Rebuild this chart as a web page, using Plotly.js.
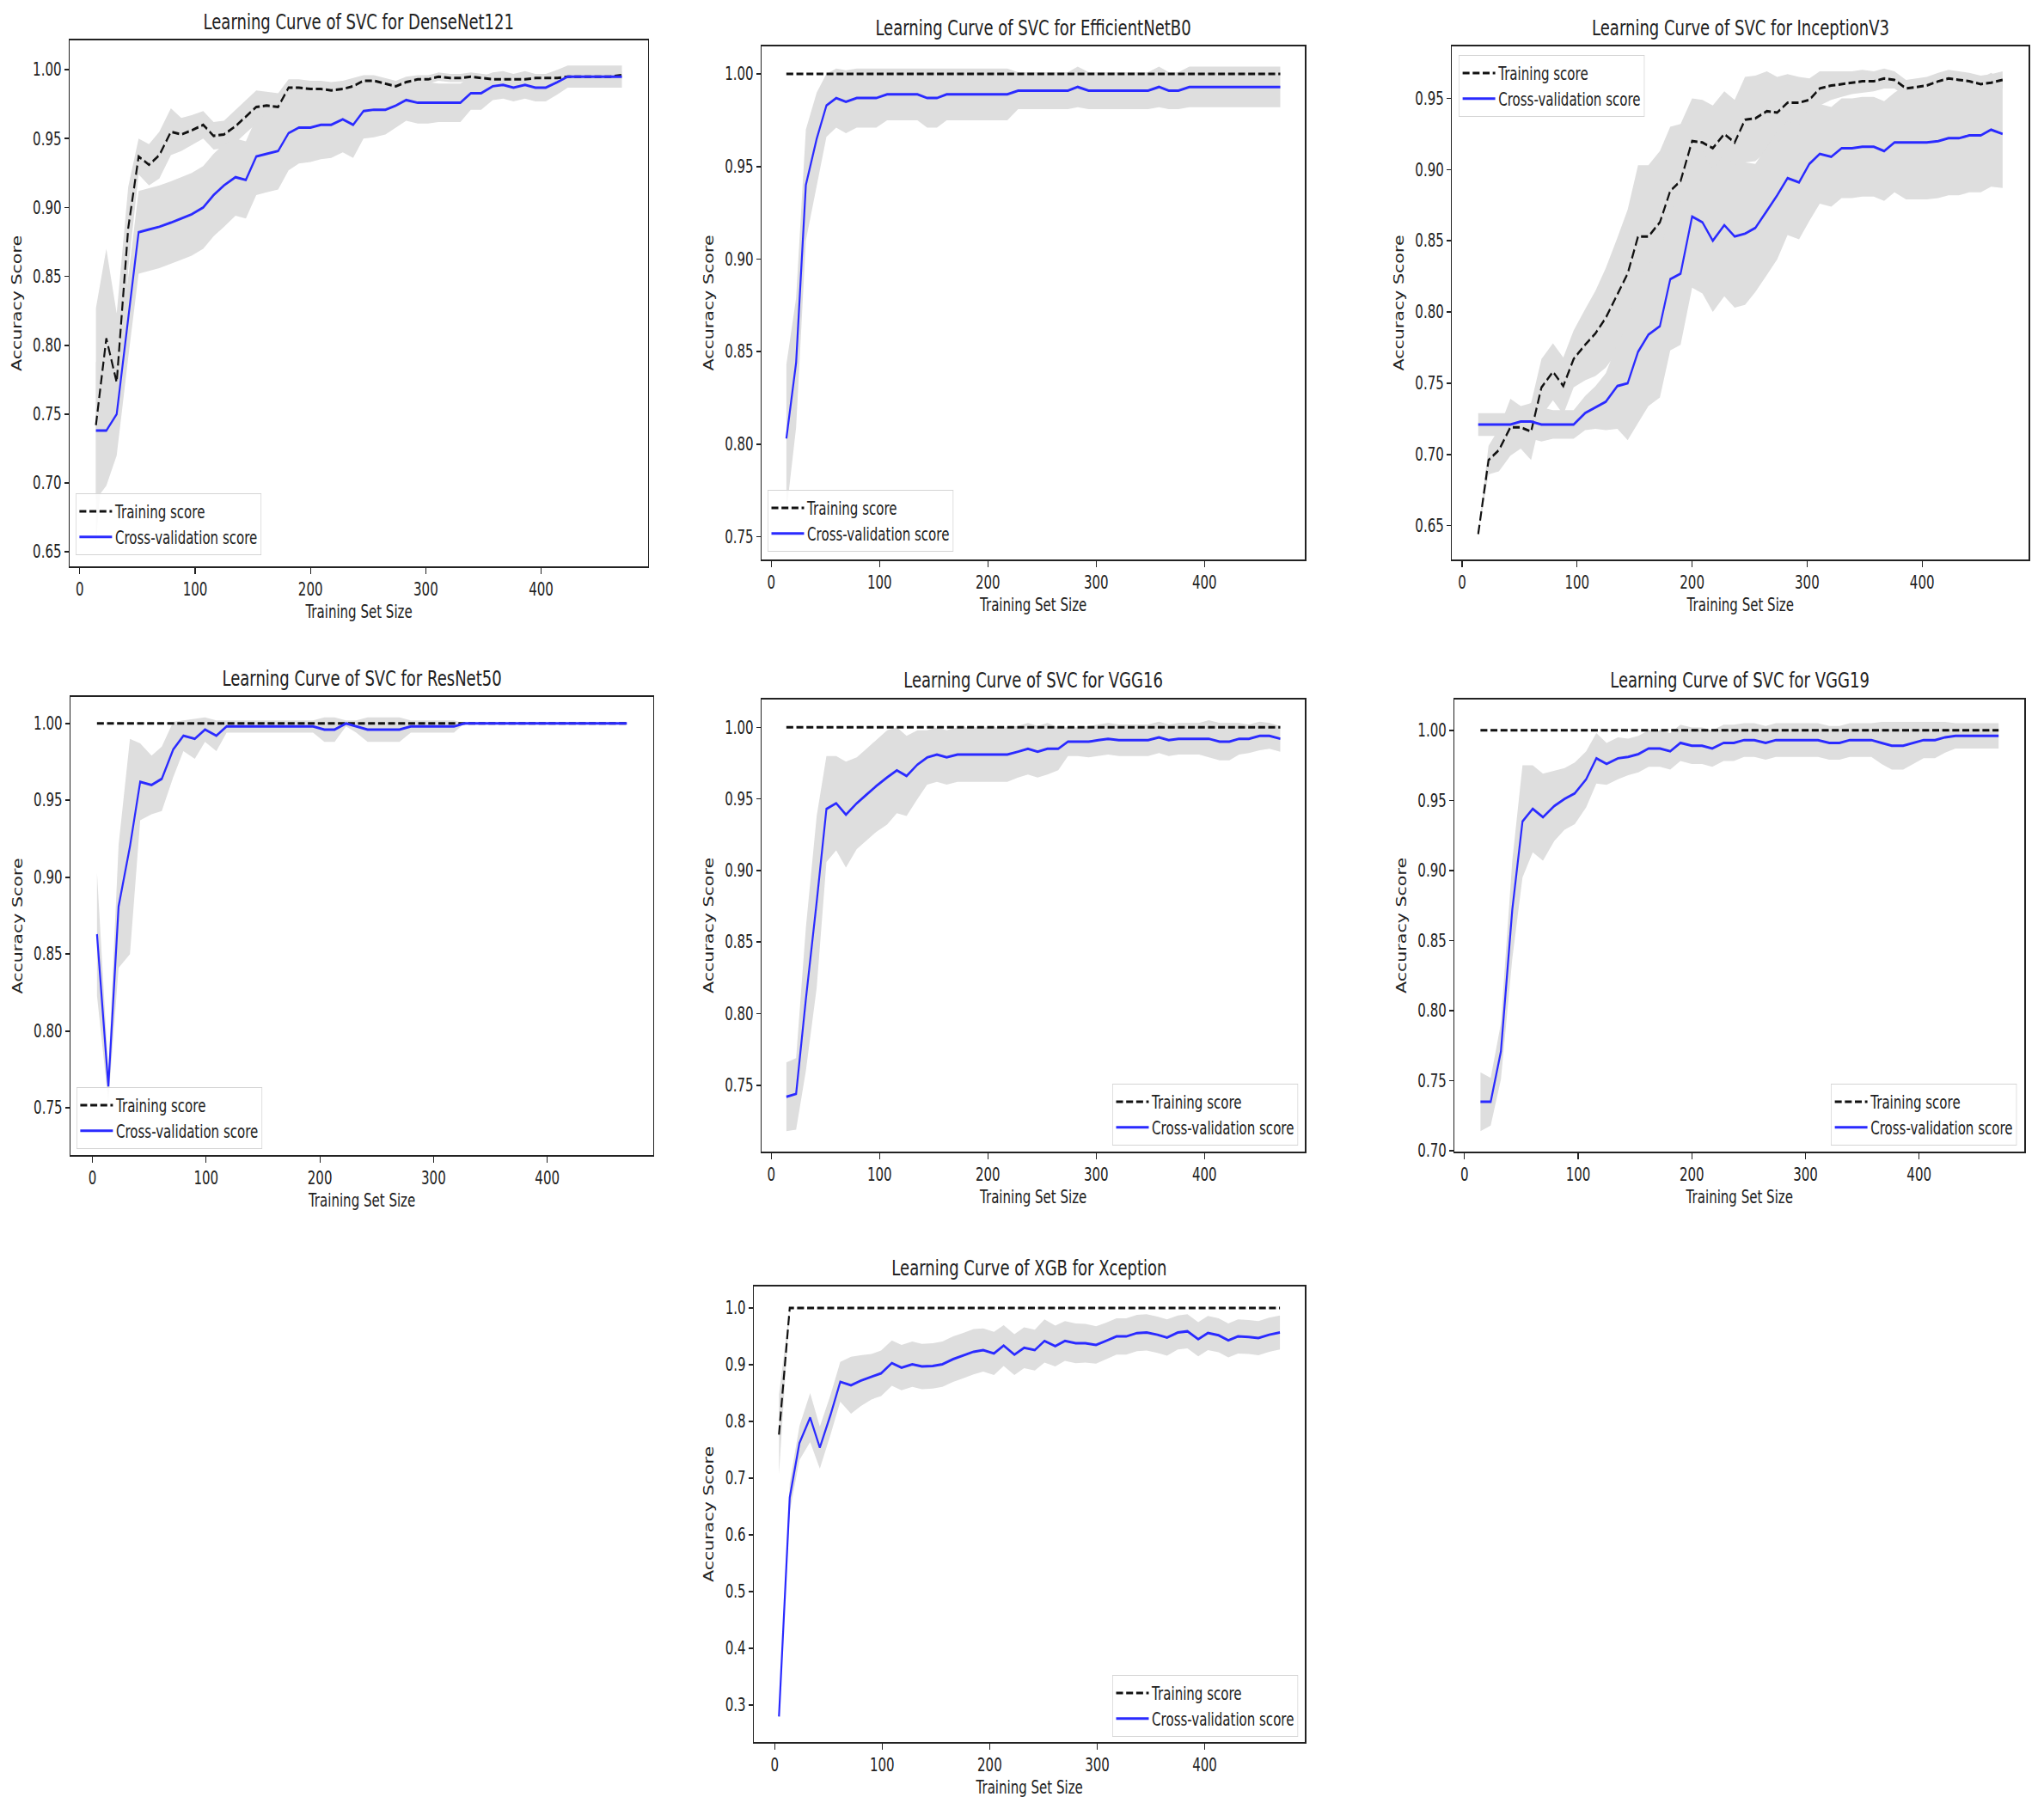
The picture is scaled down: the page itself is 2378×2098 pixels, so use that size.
<!DOCTYPE html>
<html>
<head>
<meta charset="utf-8">
<script src="https://cdn.plot.ly/plotly-3.0.1.min.js"></script>
<style>
  html, body { margin: 0; padding: 0; background: #fff; overflow: hidden; }
  /* the reference is a matplotlib figure squeezed horizontally; draw wide, then squeeze */
  #chart { width: 3258px; height: 2098px; transform: scaleX(0.73); transform-origin: 0 0; }
</style>
</head>
<body>
<div id="chart"></div>
<script>
// 7개 학습곡선 (learning curve) 패널. 값은 그림에서 읽은 추정치.

// ── training set sizes ──
const SIZES_A = [14, 23, 32, 42, 51, 60, 69, 79, 88, 97, 107, 116, 125, 135, 144, 153, 162, 172, 181, 190,
  200, 209, 218, 228, 237, 246, 255, 265, 274, 283, 293, 302, 311, 321, 330, 339, 348, 358, 367, 376,
  386, 395, 404, 414, 423, 432, 441, 451, 460, 470];
const SIZES_B = [4, 14, 23, 33, 42, 52, 61, 71, 80, 90, 99, 109, 118, 128, 137, 147, 156, 166, 175, 185,
  194, 204, 213, 223, 232, 242, 251, 261, 270, 280, 289, 299, 308, 318, 327, 337, 346, 356, 365, 375,
  384, 394, 403, 413, 422, 431, 441, 450, 460, 470];

const FLAT_ONE = [1, 1, 1, 1, 1, 1, 1, 1, 1, 1, 1, 1, 1, 1, 1, 1, 1, 1, 1, 1, 1, 1, 1, 1, 1,
  1, 1, 1, 1, 1, 1, 1, 1, 1, 1, 1, 1, 1, 1, 1, 1, 1, 1, 1, 1, 1, 1, 1, 1, 1];

// ── DenseNet121 ──
const DN_TRAIN = [0.742, 0.805, 0.773, 0.885, 0.937, 0.931, 0.938, 0.955, 0.953, 0.956, 0.960, 0.952, 0.953, 0.959, 0.966,
  0.973, 0.974, 0.973, 0.987, 0.987, 0.986, 0.986, 0.985, 0.986, 0.988, 0.992, 0.992, 0.990, 0.988, 0.991,
  0.993, 0.993, 0.995, 0.994, 0.994, 0.995, 0.994, 0.993, 0.993, 0.993, 0.993, 0.994, 0.994, 0.994, 0.995,
  0.995, 0.995, 0.995, 0.995, 0.996];
const DN_TRAIN_STD = [0.085, 0.065, 0.05, 0.03, 0.013, 0.015, 0.017, 0.017, 0.012, 0.011, 0.01, 0.01, 0.01, 0.012, 0.012,
  0.012, 0.01, 0.01, 0.006, 0.006, 0.006, 0.006, 0.006, 0.006, 0.006, 0.004, 0.004, 0.004, 0.004, 0.004,
  0.003, 0.003, 0.003, 0.003, 0.003, 0.003, 0.003, 0.003, 0.003, 0.003, 0.003, 0.003, 0.003, 0.003, 0.003,
  0.003, 0.003, 0.003, 0.003, 0.003];
const DN_VAL = [0.738, 0.738, 0.750, 0.821, 0.882, 0.884, 0.886, 0.889, 0.892, 0.895, 0.900, 0.909, 0.916, 0.922, 0.920,
  0.937, 0.939, 0.941, 0.954, 0.958, 0.958, 0.960, 0.960, 0.964, 0.960, 0.970, 0.971, 0.971, 0.974, 0.978,
  0.976, 0.976, 0.976, 0.976, 0.976, 0.983, 0.983, 0.988, 0.989, 0.987, 0.989, 0.987, 0.987, 0.991, 0.995,
  0.995, 0.995, 0.995, 0.995, 0.995];
const DN_VAL_STD = [0.05, 0.04, 0.03, 0.03, 0.03, 0.03, 0.03, 0.03, 0.03, 0.03, 0.03, 0.03, 0.03, 0.028, 0.028,
  0.028, 0.028, 0.028, 0.027, 0.026, 0.025, 0.025, 0.024, 0.024, 0.024, 0.02, 0.02, 0.018, 0.016, 0.015,
  0.015, 0.015, 0.014, 0.014, 0.014, 0.012, 0.012, 0.01, 0.01, 0.01, 0.01, 0.01, 0.01, 0.009, 0.008,
  0.008, 0.008, 0.008, 0.008, 0.008];

// ── EfficientNetB0 ──
const EN_VAL = [0.803, 0.844, 0.940, 0.965, 0.983, 0.987, 0.985, 0.987, 0.987, 0.987, 0.989, 0.989, 0.989, 0.989, 0.987,
  0.987, 0.989, 0.989, 0.989, 0.989, 0.989, 0.989, 0.989, 0.991, 0.991, 0.991, 0.991, 0.991, 0.991, 0.993,
  0.991, 0.991, 0.991, 0.991, 0.991, 0.991, 0.991, 0.993, 0.991, 0.991, 0.993, 0.993, 0.993, 0.993, 0.993,
  0.993, 0.993, 0.993, 0.993, 0.993];
const EN_VAL_STD = [0.04, 0.035, 0.03, 0.025, 0.017, 0.016, 0.017, 0.016, 0.016, 0.016, 0.014, 0.014, 0.014, 0.014, 0.016,
  0.016, 0.014, 0.014, 0.014, 0.014, 0.014, 0.014, 0.014, 0.01, 0.01, 0.01, 0.01, 0.01, 0.01, 0.011,
  0.01, 0.01, 0.01, 0.01, 0.01, 0.01, 0.01, 0.011, 0.01, 0.01, 0.011, 0.011, 0.011, 0.011, 0.011,
  0.011, 0.011, 0.011, 0.011, 0.011];

// ── InceptionV3 ──
const IN_TRAIN = [0.644, 0.696, 0.703, 0.719, 0.719, 0.716, 0.747, 0.758, 0.748, 0.767, 0.777, 0.785, 0.796, 0.812, 0.827,
  0.853, 0.853, 0.863, 0.885, 0.892, 0.920, 0.919, 0.915, 0.925, 0.919, 0.935, 0.936, 0.941, 0.940, 0.947,
  0.947, 0.949, 0.957, 0.959, 0.960, 0.961, 0.962, 0.962, 0.964, 0.963, 0.957, 0.958, 0.959, 0.962, 0.964,
  0.963, 0.962, 0.960, 0.961, 0.963];
const IN_TRAIN_STD = [0.0, 0.01, 0.015, 0.02, 0.015, 0.02, 0.02, 0.02, 0.02, 0.02, 0.025, 0.03, 0.035, 0.04, 0.045,
  0.05, 0.05, 0.05, 0.045, 0.04, 0.03, 0.03, 0.03, 0.03, 0.03, 0.03, 0.03, 0.028, 0.025, 0.02,
  0.018, 0.015, 0.012, 0.01, 0.009, 0.008, 0.008, 0.007, 0.007, 0.006, 0.006, 0.006, 0.006, 0.006, 0.006,
  0.006, 0.006, 0.006, 0.006, 0.006];
const IN_VAL = [0.721, 0.721, 0.721, 0.721, 0.723, 0.723, 0.721, 0.721, 0.721, 0.721, 0.729, 0.733, 0.737, 0.748, 0.750,
  0.772, 0.784, 0.790, 0.823, 0.827, 0.867, 0.863, 0.850, 0.861, 0.853, 0.855, 0.859, 0.871, 0.882, 0.894,
  0.891, 0.904, 0.911, 0.909, 0.915, 0.915, 0.916, 0.916, 0.913, 0.919, 0.919, 0.919, 0.919, 0.920, 0.922,
  0.922, 0.924, 0.924, 0.928, 0.925];
const IN_VAL_STD = [0.008, 0.008, 0.008, 0.008, 0.01, 0.012, 0.012, 0.01, 0.01, 0.01, 0.012, 0.015, 0.02, 0.03, 0.04,
  0.05, 0.05, 0.05, 0.05, 0.05, 0.05, 0.05, 0.05, 0.05, 0.05, 0.05, 0.045, 0.045, 0.045, 0.04,
  0.04, 0.04, 0.035, 0.035, 0.035, 0.035, 0.035, 0.035, 0.035, 0.035, 0.04, 0.04, 0.04, 0.04, 0.04,
  0.04, 0.04, 0.04, 0.04, 0.038];

// ── ResNet50 ──
const RN_VAL = [0.863, 0.764, 0.881, 0.920, 0.962, 0.960, 0.964, 0.983, 0.992, 0.990, 0.996, 0.992, 0.998, 0.998, 0.998,
  0.998, 0.998, 0.998, 0.998, 0.998, 0.998, 0.996, 0.996, 1.000, 0.998, 0.996, 0.996, 0.996, 0.996, 0.998,
  0.998, 0.998, 0.998, 0.998, 1.000, 1.000, 1.000, 1.000, 1.000, 1.000, 1.000, 1.000, 1.000, 1.000, 1.000,
  1.000, 1.000, 1.000, 1.000, 1.000];
const RN_VAL_STD = [0.04, 0.01, 0.04, 0.07, 0.025, 0.019, 0.021, 0.018, 0.01, 0.013, 0.008, 0.01, 0.004, 0.004, 0.004,
  0.004, 0.004, 0.004, 0.004, 0.004, 0.004, 0.008, 0.008, 0.002, 0.004, 0.008, 0.008, 0.008, 0.008, 0.004,
  0.004, 0.004, 0.004, 0.004, 0, 0, 0, 0, 0, 0, 0, 0, 0, 0, 0,
  0, 0, 0, 0, 0];

// ── VGG16 ──
const V16_VAL = [0.742, 0.744, 0.810, 0.878, 0.943, 0.947, 0.939, 0.947, 0.953, 0.959, 0.965, 0.970, 0.966, 0.974, 0.979,
  0.981, 0.979, 0.981, 0.981, 0.981, 0.981, 0.981, 0.981, 0.983, 0.985, 0.983, 0.985, 0.985, 0.990, 0.990,
  0.990, 0.991, 0.992, 0.991, 0.991, 0.991, 0.991, 0.993, 0.991, 0.992, 0.992, 0.992, 0.992, 0.990, 0.990,
  0.992, 0.992, 0.994, 0.994, 0.992];
const V16_VAL_STD = [0.024, 0.025, 0.05, 0.06, 0.037, 0.033, 0.037, 0.032, 0.032, 0.032, 0.033, 0.03, 0.028, 0.024, 0.019,
  0.019, 0.019, 0.019, 0.019, 0.019, 0.019, 0.019, 0.019, 0.018, 0.018, 0.018, 0.018, 0.015, 0.01, 0.01,
  0.011, 0.011, 0.011, 0.011, 0.011, 0.011, 0.011, 0.011, 0.011, 0.011, 0.011, 0.011, 0.013, 0.013, 0.013,
  0.011, 0.01, 0.01, 0.009, 0.009];

// ── VGG19 ──
const V19_VAL = [0.735, 0.735, 0.771, 0.872, 0.935, 0.944, 0.938, 0.946, 0.951, 0.955, 0.965, 0.980, 0.976, 0.980, 0.981,
  0.983, 0.987, 0.987, 0.985, 0.991, 0.989, 0.989, 0.987, 0.991, 0.991, 0.993, 0.993, 0.991, 0.993, 0.993,
  0.993, 0.993, 0.993, 0.991, 0.991, 0.993, 0.993, 0.993, 0.991, 0.989, 0.989, 0.991, 0.993, 0.993, 0.995,
  0.996, 0.996, 0.996, 0.996, 0.996];
const V19_VAL_STD = [0.021, 0.017, 0.02, 0.035, 0.04, 0.031, 0.031, 0.025, 0.022, 0.022, 0.02, 0.018, 0.015, 0.015, 0.013,
  0.013, 0.013, 0.013, 0.013, 0.013, 0.013, 0.013, 0.013, 0.013, 0.013, 0.012, 0.012, 0.012, 0.012, 0.012,
  0.012, 0.012, 0.012, 0.012, 0.012, 0.012, 0.012, 0.012, 0.015, 0.017, 0.017, 0.015, 0.013, 0.013, 0.011,
  0.009, 0.009, 0.009, 0.009, 0.009];

// ── Xception (XGB) ──
const XC_TRAIN = [0.777, 1, 1, 1, 1, 1, 1, 1, 1, 1, 1, 1, 1, 1, 1, 1, 1, 1, 1, 1, 1, 1, 1, 1, 1,
  1, 1, 1, 1, 1, 1, 1, 1, 1, 1, 1, 1, 1, 1, 1, 1, 1, 1, 1, 1, 1, 1, 1, 1, 1];
const XC_TRAIN_STD = [0.07, 0, 0, 0, 0, 0, 0, 0, 0, 0, 0, 0, 0, 0, 0, 0, 0, 0, 0, 0, 0, 0, 0, 0, 0,
  0, 0, 0, 0, 0, 0, 0, 0, 0, 0, 0, 0, 0, 0, 0, 0, 0, 0, 0, 0, 0, 0, 0, 0, 0];
const XC_VAL = [0.280, 0.666, 0.762, 0.807, 0.754, 0.812, 0.870, 0.864, 0.872, 0.879, 0.885, 0.903, 0.895, 0.901, 0.897,
  0.898, 0.901, 0.910, 0.916, 0.923, 0.926, 0.920, 0.934, 0.918, 0.930, 0.926, 0.942, 0.933, 0.942, 0.938,
  0.938, 0.935, 0.942, 0.950, 0.950, 0.956, 0.957, 0.953, 0.948, 0.957, 0.959, 0.945, 0.956, 0.952, 0.943,
  0.950, 0.949, 0.947, 0.953, 0.957];
const XC_VAL_STD = [0.005, 0.025, 0.03, 0.043, 0.037, 0.035, 0.035, 0.05, 0.045, 0.04, 0.04, 0.04, 0.04, 0.04, 0.04,
  0.04, 0.04, 0.04, 0.04, 0.04, 0.038, 0.038, 0.036, 0.036, 0.036, 0.036, 0.038, 0.036, 0.035, 0.035,
  0.034, 0.033, 0.032, 0.032, 0.032, 0.032, 0.032, 0.032, 0.032, 0.03, 0.03, 0.03, 0.03, 0.03, 0.03,
  0.03, 0.03, 0.03, 0.03, 0.03];

// 화면 좌표 (2378x2098 기준). 실제로는 가로로 넓게 그린 뒤 CSS로 0.73배 압축.
const W = 2378, H = 2098;
const SQUEEZE = 0.73;
const FONT = '"DejaVu Sans", sans-serif';
const INK = '#222222';
const BAND = '#dedede';
const BLUE = '#2a2aff';

// box = [left, top, right, bottom] in final page px
const PANELS = [
  { title: 'Learning Curve of SVC for DenseNet121', x: SIZES_A, train: DN_TRAIN, trainStd: DN_TRAIN_STD,
    val: DN_VAL, valStd: DN_VAL_STD, box: [81, 47, 754, 659], xr: [-8.8, 492.8], yr: [0.6395, 1.0213],
    dtick: 0.05, fmt: '.2f', leg: { x: 88, y: 646, xa: 'left', ya: 'bottom' } },
  { title: 'Learning Curve of SVC for EfficientNetB0', x: SIZES_A, train: FLAT_ONE, trainStd: null,
    val: EN_VAL, valStd: EN_VAL_STD, box: [886, 54, 1518, 651], xr: [-8.8, 492.8], yr: [0.7377, 1.0149],
    dtick: 0.05, fmt: '.2f', leg: { x: 893, y: 642, xa: 'left', ya: 'bottom' } },
  { title: 'Learning Curve of SVC for InceptionV3', x: SIZES_A, train: IN_TRAIN, trainStd: IN_TRAIN_STD,
    val: IN_VAL, valStd: IN_VAL_STD, box: [1689, 54, 2360, 651], xr: [-8.8, 492.8], yr: [0.6262, 0.9865],
    dtick: 0.05, fmt: '.2f', leg: { x: 1697, y: 64, xa: 'left', ya: 'top' } },
  { title: 'Learning Curve of SVC for ResNet50', x: SIZES_B, train: FLAT_ONE, trainStd: null,
    val: RN_VAL, valStd: RN_VAL_STD, box: [82, 811, 760, 1344], xr: [-19.3, 493.3], yr: [0.7194, 1.0172],
    dtick: 0.05, fmt: '.2f', leg: { x: 89, y: 1337, xa: 'left', ya: 'bottom' } },
  { title: 'Learning Curve of SVC for VGG16', x: SIZES_A, train: FLAT_ONE, trainStd: null,
    val: V16_VAL, valStd: V16_VAL_STD, box: [886, 814, 1518, 1340], xr: [-8.8, 492.8], yr: [0.7037, 1.0194],
    dtick: 0.05, fmt: '.2f', leg: { x: 1510, y: 1333, xa: 'right', ya: 'bottom' } },
  { title: 'Learning Curve of SVC for VGG19', x: SIZES_A, train: FLAT_ONE, trainStd: null,
    val: V19_VAL, valStd: V19_VAL_STD, box: [1692, 814, 2355, 1340], xr: [-8.8, 492.8], yr: [0.6995, 1.0219],
    dtick: 0.05, fmt: '.2f', leg: { x: 2346, y: 1333, xa: 'right', ya: 'bottom' } },
  { title: 'Learning Curve of XGB for Xception', x: SIZES_B, train: XC_TRAIN, trainStd: XC_TRAIN_STD,
    val: XC_VAL, valStd: XC_VAL_STD, box: [877, 1497, 1518, 2027], xr: [-19.3, 493.3], yr: [0.2352, 1.038],
    dtick: 0.1, fmt: '.1f', leg: { x: 1510, y: 2021, xa: 'right', ya: 'bottom' } },
];

const px = (v) => v / W;
const py = (v) => 1 - v / H;

// mean ± std 를 닫힌 폴리곤으로 (fill: toself)
function band(xs, mean, std, xa, ya) {
  const up = mean.map((m, i) => m + std[i]);
  const lo = mean.map((m, i) => m - std[i]);
  return {
    x: [...xs, ...xs.slice().reverse()],
    y: [...up, ...lo.slice().reverse()],
    xaxis: xa, yaxis: ya, mode: 'lines', fill: 'toself', fillcolor: BAND,
    line: { width: 0, color: BAND }, hoverinfo: 'skip', showlegend: false,
  };
}

const traces = [];
const layout = {
  width: Math.round(W / SQUEEZE), height: H, margin: { l: 0, r: 0, t: 0, b: 0 },
  paper_bgcolor: '#ffffff', plot_bgcolor: '#ffffff',
  showlegend: true, annotations: [],
};

PANELS.forEach((p, k) => {
  const n = k + 1;
  const suf = n === 1 ? '' : String(n);
  const xa = 'x' + suf, ya = 'y' + suf;
  const legName = 'legend' + suf;
  const [l, t, r, b] = p.box;

  if (p.trainStd) traces.push(band(p.x, p.train, p.trainStd, xa, ya));
  if (p.valStd) traces.push(band(p.x, p.val, p.valStd, xa, ya));
  traces.push({
    x: p.x, y: p.train, xaxis: xa, yaxis: ya, mode: 'lines', name: 'Training score',
    line: { color: '#111111', width: 3, dash: '11px,5px' }, legend: legName,
  });
  traces.push({
    x: p.x, y: p.val, xaxis: xa, yaxis: ya, mode: 'lines', name: 'Cross-validation score',
    line: { color: BLUE, width: 3 }, legend: legName,
  });

  const common = {
    showline: true, mirror: true, linecolor: INK, linewidth: 1.8,
    ticks: 'outside', ticklen: 7, tickwidth: 1.6, tickcolor: INK,
    showgrid: false, zeroline: false, fixedrange: true,
    tickfont: { family: FONT, size: 20.6, color: INK },
  };
  layout['xaxis' + suf] = {
    ...common, domain: [px(l), px(r)], anchor: ya, range: p.xr,
    tick0: 0, dtick: 100,
    title: { text: 'Training Set Size', font: { family: FONT, size: 20.6, color: INK }, standoff: 8 },
  };
  layout['yaxis' + suf] = {
    ...common, domain: [py(b), py(t)], anchor: xa, range: p.yr,
    tick0: 0, dtick: p.dtick, tickformat: p.fmt,
    title: { text: 'Accuracy Score', font: { family: FONT, size: 20.6, color: INK }, standoff: 12 },
  };
  layout[legName] = {
    x: px(p.leg.x), y: py(p.leg.y), xanchor: p.leg.xa, yanchor: p.leg.ya,
    bgcolor: 'rgba(255,255,255,0.85)', bordercolor: '#d4d4d4', borderwidth: 1,
    font: { family: FONT, size: 20.6, color: INK }, tracegroupgap: 0, itemwidth: 52,
  };
  layout.annotations.push({
    xref: 'paper', yref: 'paper', x: px((l + r) / 2), y: py(t - 22),
    xanchor: 'center', yanchor: 'middle', showarrow: false,
    text: p.title, font: { family: FONT, size: 24.7, color: INK },
  });
});

Plotly.newPlot('chart', traces, layout, { displayModeBar: false, staticPlot: true });
</script>
</body>
</html>
